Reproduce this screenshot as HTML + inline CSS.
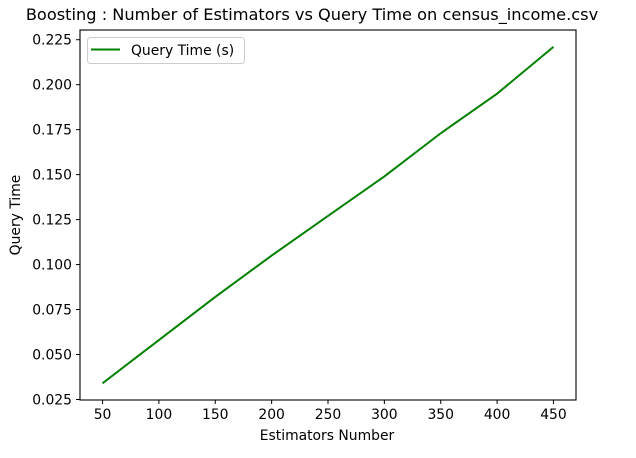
<!DOCTYPE html>
<html><head><meta charset="utf-8"><style>
body{margin:0;background:#fff;}
text{font-family:"DejaVu Sans","Liberation Sans",sans-serif;fill:#000;}
</style></head><body>
<svg id="chart" width="636" height="453" xmlns="http://www.w3.org/2000/svg">
<rect width="636" height="453" fill="#fff"/>
<text x="312" y="20" font-size="16.2" text-anchor="middle">Boosting : Number of Estimators vs Query Time on census_income.csv</text>
<g id="ticks"></g>
<polyline id="series" fill="none" stroke="#008000" stroke-width="2"/>
<rect x="80" y="30" width="496" height="370" fill="none" stroke="#000" stroke-width="1.1"/>
<text x="327" y="440" font-size="13.9" text-anchor="middle">Estimators Number</text>
<text x="20" y="215" font-size="13.9" text-anchor="middle" transform="rotate(-90 20 215)">Query Time</text>
<g>
<rect x="87.5" y="37.5" width="157" height="26" rx="3" fill="#fff" stroke="#ccc" stroke-width="1"/>
<line x1="91" y1="49.5" x2="120" y2="49.5" stroke="#008000" stroke-width="2"/>
<text x="131" y="55" font-size="13.9">Query Time (s)</text>
</g>
</svg>
<script>
const categories=[50,100,150,200,250,300,350,400,450];
const queryTime=[0.034,0.058,0.082,0.105,0.127,0.149,0.173,0.195,0.221];
const xTicks=[50,100,150,200,250,300,350,400,450];
const yTicks=[0.025,0.050,0.075,0.100,0.125,0.150,0.175,0.200,0.225];
const X0=80,X1=576,Y0=400,Y1=30;
const xmin=30,xmax=470,ymin=0.0247,ymax=0.2304;
function sx(v){return X0+(v-xmin)/(xmax-xmin)*(X1-X0);}
function sy(v){return Y0-(v-ymin)/(ymax-ymin)*(Y0-Y1);}
const NS="http://www.w3.org/2000/svg";
const g=document.getElementById('ticks');
xTicks.forEach(t=>{
 const l=document.createElementNS(NS,'line');
 l.setAttribute('x1',sx(t));l.setAttribute('x2',sx(t));l.setAttribute('y1',400);l.setAttribute('y2',404);l.setAttribute('stroke','#000');
 
 
 g.appendChild(l);
 const tx=document.createElementNS(NS,'text');
 tx.setAttribute('x',sx(t));tx.setAttribute('y',419);tx.setAttribute('font-size','13.9');tx.setAttribute('text-anchor','middle');
 tx.textContent=t;
 
 
 g.appendChild(tx);
});
yTicks.forEach(t=>{
 const l=document.createElementNS(NS,'line');
 l.setAttribute('x1',76);l.setAttribute('x2',80);l.setAttribute('y1',sy(t));l.setAttribute('y2',sy(t));l.setAttribute('stroke','#000');
 
 
 g.appendChild(l);
 const tx=document.createElementNS(NS,'text');
 tx.setAttribute('x',72);tx.setAttribute('y',sy(t)+5);tx.setAttribute('font-size','13.9');tx.setAttribute('text-anchor','end');
 tx.textContent=t.toFixed(3);
 
 
 g.appendChild(tx);
});
document.getElementById('series').setAttribute('points',categories.map((c,i)=>sx(c)+','+sy(queryTime[i])).join(' '));
</script>
</body></html>
